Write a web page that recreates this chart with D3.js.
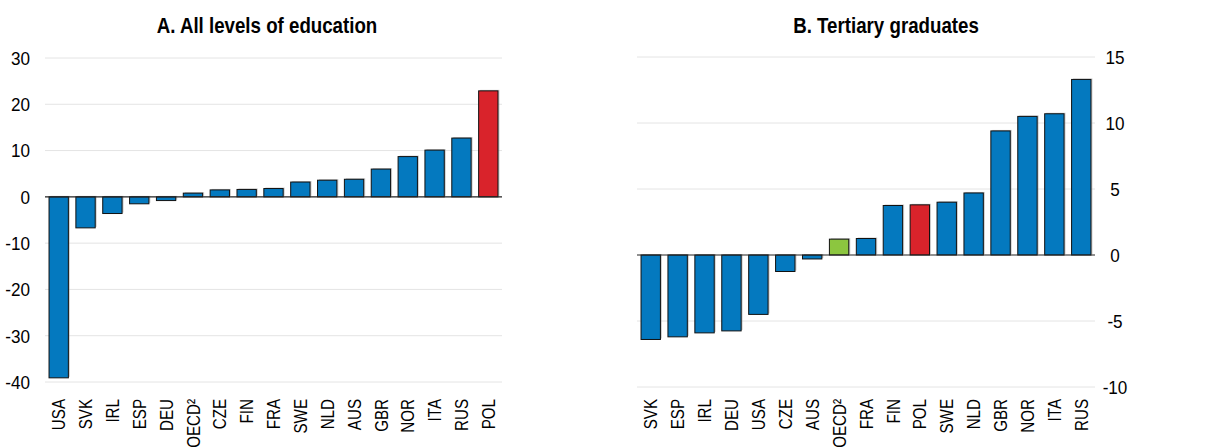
<!DOCTYPE html>
<html>
<head>
<meta charset="utf-8">
<script src="https://cdn.jsdelivr.net/npm/d3@7"></script>
<style>
  body { margin: 0; background: #fff; }
  svg text { font-family: "Liberation Sans", Arial, sans-serif; fill: #000; }
</style>
</head>
<body>
<svg id="chart" width="1220" height="448"></svg>
<script>
// Panel A: all levels of education
let catsA = ["USA","SVK","IRL","ESP","DEU","OECD²","CZE","FIN","FRA","SWE","NLD","AUS","GBR","NOR","ITA","RUS","POL"];
let valsA = [-39.1,-6.7,-3.6,-1.5,-0.8,0.8,1.5,1.6,1.8,3.2,3.6,3.8,6.0,8.7,10.1,12.7,22.9];
let ticksA = [-40,-30,-20,-10,0,10,20,30];

// Panel B: tertiary graduates
let catsB = ["SVK","ESP","IRL","DEU","USA","CZE","AUS","OECD²","FRA","FIN","POL","SWE","NLD","GBR","NOR","ITA","RUS"];
let valsB = [-6.4,-6.2,-5.9,-5.75,-4.5,-1.25,-0.3,1.2,1.25,3.75,3.8,4.0,4.7,9.4,10.5,10.7,13.3];
let ticksB = [-10,-5,0,5,10,15];

let redCats = ["POL"];
let greenCatsB = ["OECD²"];

const BLUE = "#0479bf", RED = "#d9232b", GREEN = "#8cc63f";
const NARROW = 0.82; // squeeze text to look like Arial Narrow

let svg = d3.select("#chart");

function drawPanel(cfg) {
    let {cats, vals, ticks, domain, x0, x1, yTop, yBot, title, titleX, axisSide, greens} = cfg;

    let x = d3.scaleBand().domain(cats).range([x0, x1]).paddingInner(0.28).paddingOuter(0.15);
    let y = d3.scaleLinear().domain(domain).range([yBot, yTop]);

    let g = svg.append("g");

    // gridlines
    g.selectAll(".grid")
        .data(ticks.filter(t => t !== 0))
        .join("line")
        .attr("x1", x0).attr("x2", x1)
        .attr("y1", d => y(d)).attr("y2", d => y(d))
        .attr("stroke", "#e4e4e4")
        .attr("stroke-width", 1);

    // tick labels
    let tx = axisSide === "left" ? x0 - 15 : x1 + 20;
    g.selectAll(".tick")
        .data(ticks)
        .join("text")
        .attr("transform", d => "translate(" + tx + "," + y(d) + ") scale(0.9,1)")
        .attr("dy", "0.36em")
        .attr("text-anchor", axisSide === "left" ? "end" : "middle")
        .style("font-size", "19px")
        .text(d => d);

    let color = function(c) {
        if (redCats.includes(c)) return RED;
        if (greens.includes(c)) return GREEN;
        return BLUE;
    };

    let data = cats.map((c, i) => ({cat: c, v: vals[i]}));

    // soft shadow behind bars
    g.selectAll(".shadow")
        .data(data)
        .join("rect")
        .attr("x", d => x(d.cat) + 1.5)
        .attr("y", d => Math.min(y(d.v), y(0)) - 1)
        .attr("width", x.bandwidth())
        .attr("height", d => Math.abs(y(d.v) - y(0)))
        .attr("fill", "#9a9a9a")
        .attr("opacity", 0.5);

    g.selectAll(".bar")
        .data(data)
        .join("rect")
        .attr("x", d => x(d.cat))
        .attr("y", d => Math.min(y(d.v), y(0)))
        .attr("width", x.bandwidth())
        .attr("height", d => Math.abs(y(d.v) - y(0)))
        .attr("fill", d => color(d.cat))
        .attr("stroke", "#111")
        .attr("stroke-width", 1);

    // zero line
    g.append("line")
        .attr("x1", x0).attr("x2", x1)
        .attr("y1", y(0)).attr("y2", y(0))
        .attr("stroke", "#222")
        .attr("stroke-width", 1.2);

    // category labels
    g.selectAll(".xlab")
        .data(cats)
        .join("text")
        .attr("transform", d => "translate(" + (x(d) + x.bandwidth() / 2) + ",399) rotate(-90) scale(" + NARROW + ",1)")
        .attr("dy", "0.36em")
        .attr("text-anchor", "end")
        .style("font-size", "18.5px")
        .text(d => d);

    g.append("text")
        .attr("transform", "translate(" + titleX + ",33) scale(0.85,1)")
        .attr("text-anchor", "middle")
        .style("font-size", "22px")
        .style("font-weight", "bold")
        .text(title);
}

drawPanel({
    cats: catsA, vals: valsA, ticks: ticksA, domain: [-40, 30],
    x0: 45, x1: 502, yTop: 58, yBot: 382,
    title: "A. All levels of education", titleX: 267,
    axisSide: "left", greens: []
});

drawPanel({
    cats: catsB, vals: valsB, ticks: ticksB, domain: [-10, 15],
    x0: 637, x1: 1095, yTop: 57, yBot: 387,
    title: "B. Tertiary graduates", titleX: 886,
    axisSide: "right", greens: greenCatsB
});
</script>
</body>
</html>
